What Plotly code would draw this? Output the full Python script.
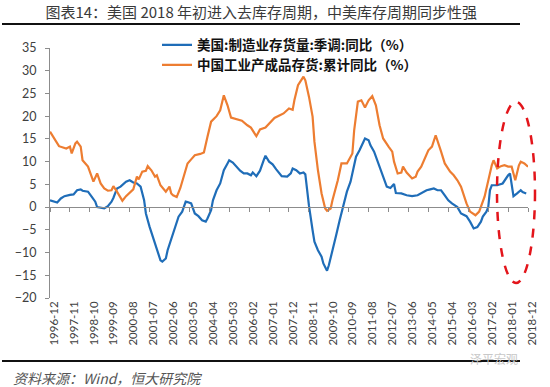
import plotly.graph_objects as go

# ---------------- data ----------------
us_dates = ["1996-12","1997-02","1997-04","1997-06","1997-08","1997-11","1998-01","1998-03","1998-05","1998-06",
            "1998-09","1998-11","1999-01","1999-02","1999-04","1999-06","1999-08","1999-10","1999-11","2000-01",
            "2000-03","2000-05","2000-06","2000-08","2000-10","2000-12","2001-02","2001-04","2001-05","2001-07",
            "2001-09","2001-11","2002-01","2002-02","2002-04","2002-05","2002-07","2002-09","2002-11","2003-01",
            "2003-03","2003-04","2003-06","2003-08","2003-10","2003-12","2004-02","2004-03","2004-05","2004-06",
            "2004-08","2004-10","2004-12","2005-02","2005-03","2005-05","2005-07","2005-09","2005-11","2006-01",
            "2006-03","2006-04","2006-06","2006-08","2006-10","2006-11","2007-01","2007-03","2007-05","2007-08",
            "2007-11","2008-01","2008-02","2008-04","2008-06","2008-08","2008-09","2008-10","2008-11","2009-01",
            "2009-02","2009-04","2009-06","2009-07","2009-09","2009-10","2009-12","2010-02","2010-04","2010-06",
            "2010-08","2010-10","2010-12","2011-01","2011-03","2011-05","2011-06","2011-08","2011-09","2011-11",
            "2012-01","2012-03","2012-05","2012-06","2012-08","2012-10","2012-11","2013-02","2013-05","2013-08",
            "2013-11","2014-01","2014-04","2014-06","2014-08","2014-10","2014-12","2015-02","2015-04","2015-06",
            "2015-09","2015-11","2016-02","2016-04","2016-06","2016-08","2016-10","2016-11","2017-01","2017-02",
            "2017-03","2017-04","2017-07","2017-10","2017-11","2018-01","2018-02","2018-03","2018-04","2018-06",
            "2018-08","2018-09","2018-11"]
us_values = [1.5, 1.2, 1.0, 1.9, 2.4, 2.7, 2.8, 3.7, 3.9, 3.6,
             3.4, 2.3, 1.2, 0.0, -0.1, -0.3, 0.2, 1.2, 2.0, 4.1,
             4.5, 5.2, 5.6, 5.9, 5.4, 5.2, 4.5, 1.5, -1.4, -4.3,
             -6.9, -9.5, -11.7, -12.0, -11.3, -9.5, -6.9, -4.3, -2.1, -1.0,
             1.2, 1.1, 0.8, -1.4, -2.0, -2.9, -3.2, -2.5, -0.7, 1.5,
             3.7, 5.2, 8.1, 9.6, 10.3, 9.8, 8.9, 8.0, 7.4, 7.4,
             7.0, 7.6, 6.8, 8.0, 10.3, 11.3, 10.0, 9.4, 8.3, 6.8,
             6.7, 7.4, 8.5, 8.1, 7.4, 7.6, 7.2, 3.5, 0.3, -5.1,
             -7.6, -9.5, -10.9, -12.4, -14.0, -12.8, -9.8, -6.2, -2.9, 0.4,
             3.4, 5.6, 8.9, 11.1, 12.5, 14.4, 15.1, 14.7, 13.6, 12.2,
             10.0, 7.8, 5.6, 4.5, 4.2, 5.1, 3.1, 3.0, 2.6, 2.4,
             2.6, 3.1, 3.7, 3.9, 4.1, 3.7, 3.7, 2.6, 1.5, 0.8,
             0.0, -1.4, -2.0, -3.2, -4.7, -4.4, -3.2, -2.1, -1.0, 0.0,
             3.7, 4.8, 4.8, 5.2, 5.9, 7.0, 7.4, 4.5, 2.4, 3.0,
             3.7, 3.3, 3.0]

cn_dates = ["1996-12","1997-03","1997-05","1997-09","1997-11","1997-12","1998-02","1998-03","1998-05","1998-06",
            "1998-09","1998-11","1998-12","1999-02","1999-04","1999-06","1999-08","1999-10","1999-11","2000-01",
            "2000-03","2000-04","2000-06","2000-09","2000-10","2000-12","2001-01","2001-03","2001-05","2001-06",
            "2001-08","2001-10","2001-11","2002-01","2002-03","2002-04","2002-06","2002-07","2002-08","2002-10",
            "2002-12","2003-02","2003-04","2003-06","2003-08","2003-11","2004-01","2004-03","2004-05","2004-08",
            "2004-10","2004-12","2005-02","2005-04","2005-07","2005-10","2006-01","2006-03","2006-06","2006-08",
            "2006-11","2007-01","2007-04","2007-07","2007-09","2007-12","2008-02","2008-03","2008-05","2008-08",
            "2008-09","2008-11","2009-01","2009-02","2009-04","2009-06","2009-08","2009-09","2009-11","2009-12",
            "2010-02","2010-03","2010-05","2010-08","2010-11","2010-12","2011-02","2011-04","2011-06","2011-08",
            "2011-10","2011-12","2012-02","2012-04","2012-07","2012-09","2012-10","2012-12","2013-02","2013-03",
            "2013-05","2013-08","2013-10","2013-11","2014-01","2014-03","2014-05","2014-07","2014-09","2014-12",
            "2015-02","2015-05","2015-07","2015-09","2015-11","2016-02","2016-04","2016-07","2016-09","2016-12",
            "2017-02","2017-04","2017-05","2017-07","2017-09","2017-11","2018-01","2018-03","2018-05","2018-07",
            "2018-08","2018-10","2018-12"]
cn_values = [16.6, 14.7, 13.4, 12.9, 13.3, 11.8, 14.0, 14.4, 13.3, 10.3,
             8.9, 6.7, 5.6, 7.4, 5.2, 4.1, 3.6, 3.7, 4.6, 3.4,
             1.9, 1.4, 2.4, 3.4, 3.9, 6.7, 6.1, 7.8, 8.0, 9.0,
             8.1, 6.7, 7.0, 4.8, 3.7, 3.4, 4.5, 3.0, 2.6, 2.2,
             4.2, 6.7, 9.6, 10.5, 11.4, 11.7, 12.0, 15.5, 18.8, 20.0,
             21.3, 24.6, 22.4, 19.7, 19.3, 19.0, 18.0, 17.5, 15.6, 17.1,
             17.5, 18.3, 19.6, 20.2, 20.6, 21.7, 21.4, 23.5, 26.8, 28.7,
             27.9, 24.3, 19.9, 14.4, 8.1, 3.0, -0.3, -0.8, -0.3, 1.5,
             4.5, 5.9, 9.6, 9.6, 11.8, 16.9, 23.2, 23.5, 21.9, 23.5,
             24.4, 22.4, 18.0, 15.1, 13.3, 12.2, 10.0, 7.4, 7.6, 8.9,
             7.6, 6.3, 6.7, 7.8, 8.9, 10.7, 12.5, 13.3, 15.8, 12.2,
             9.6, 7.8, 7.0, 5.9, 4.5, 0.8, -1.0, -1.8, -1.0, 2.3,
             5.9, 9.2, 10.3, 8.5, 9.0, 9.2, 8.9, 8.9, 5.9, 9.2,
             10.0, 9.6, 8.9]

tick_dates = ["1996-12","1997-11","1998-10","1999-09","2000-08","2001-07","2002-06","2003-05","2004-04",
              "2005-03","2006-02","2007-01","2007-12","2008-11","2009-10","2010-09","2011-08","2012-07",
              "2013-06","2014-05","2015-04","2016-03","2017-02","2018-01","2018-12"]
tick_labels = list(tick_dates)
y_ticks = [-20, -15, -10, -5, 0, 5, 10, 15, 20, 25, 30, 35]

us_name = "美国:制造业存货量:季调:同比（%）"
cn_name = "中国工业产成品存货:累计同比（%）"
title_text = "图表14：美国 2018 年初进入去库存周期，中美库存周期同步性强"
source_text = "资料来源：Wind，恒大研究院"

# ---------------- figure ----------------
W, H = 550, 387
L, R, T, B = 50, 22, 48, 89
ymin, ymax = -20, 35
x_range = ["1996-12-01", "2018-12-01"]

CJK = "Noto Sans CJK SC"
NUM = "Lato, Liberation Sans, sans-serif"


def px_x(px):
    return (px - L) / (W - L - R)


def px_y(py):
    return (H - B - py) / (H - T - B)


fig = go.Figure()
fig.add_trace(go.Scatter(x=us_dates, y=us_values, name=us_name, mode="lines",
                         line=dict(color="#1F6DB8", width=2.2), legend="legend"))
fig.add_trace(go.Scatter(x=cn_dates, y=cn_values, name=cn_name, mode="lines",
                         line=dict(color="#ED7D31", width=2.2), xaxis="x2", legend="legend2"))

zero_pos = (0 - ymin) / (ymax - ymin)
leg_font = dict(family=CJK, size=13.5, color="#111111", weight="bold")

fig.update_layout(
    width=W, height=H,
    margin=dict(l=L, r=R, t=T, b=B, pad=0, autoexpand=False),
    paper_bgcolor="white", plot_bgcolor="white",
    showlegend=True,
    legend=dict(x=px_x(157), y=px_y(45), xanchor="left", yanchor="middle",
                bgcolor="rgba(0,0,0,0)", font=leg_font, itemwidth=30),
    legend2=dict(x=px_x(157), y=px_y(65), xanchor="left", yanchor="middle",
                 bgcolor="rgba(0,0,0,0)", font=leg_font, itemwidth=30),
    xaxis=dict(type="date", range=x_range, tickmode="array", tickvals=tick_dates, ticktext=tick_labels,
               tickangle=-90, showline=False, ticks="", showgrid=False, zeroline=False, automargin=False,
               ticklabelshift=4,
               tickfont=dict(family=NUM, size=11.5, color="#404040")),
    xaxis2=dict(type="date", overlaying="x", matches="x", anchor="free", position=zero_pos,
                range=x_range, tickmode="array", tickvals=tick_dates, showticklabels=False,
                showline=True, linecolor="#8C8C8C", linewidth=1, ticks="outside", ticklen=4,
                tickcolor="#8C8C8C", showgrid=False, zeroline=False, automargin=False),
    yaxis=dict(range=[ymin, ymax], tickmode="array", tickvals=y_ticks, showgrid=False, zeroline=False,
               showline=True, linecolor="#8C8C8C", linewidth=1, ticks="outside", ticklen=4, automargin=False,
               ticklabelstandoff=6,
               tickcolor="#8C8C8C", tickfont=dict(family=NUM, size=12.5, color="#404040")),
    title=dict(text=title_text, x=0.475, xanchor="center", y=1 - 13 / H, yanchor="middle",
               xref="container", yref="container", automargin=False,
               font=dict(family=CJK, size=15, color="#3A3A3A")),
)

# rules under title and above source
fig.add_shape(type="line", xref="paper", yref="paper", x0=px_x(2), x1=px_x(520), y0=px_y(24), y1=px_y(24),
              line=dict(color="#111111", width=2))
fig.add_shape(type="line", xref="paper", yref="paper", x0=px_x(2), x1=px_x(520), y0=px_y(361), y1=px_y(361),
              line=dict(color="#111111", width=2))
# red dashed ellipse highlight
fig.add_shape(type="circle", xref="paper", yref="paper", x0=px_x(497), x1=px_x(535), y0=px_y(283), y1=px_y(102),
              line=dict(color="#E3151B", width=2.5, dash="dash"))

fig.add_annotation(text=source_text, xref="paper", yref="paper", x=px_x(11), y=px_y(378),
                   xanchor="left", yanchor="middle", showarrow=False,
                   font=dict(family=CJK, size=14, color="#555555", style="italic"))
fig.add_annotation(text="泽平宏观", xref="paper", yref="paper", x=px_x(520), y=px_y(358),
                   xanchor="right", yanchor="middle", showarrow=False,
                   font=dict(family=CJK, size=12, color="#C8C8C8"))

fig.write_html("out.html", config={"displayModeBar": False},
               post_script="document.body.style.margin='0';document.body.style.overflow='hidden';")
